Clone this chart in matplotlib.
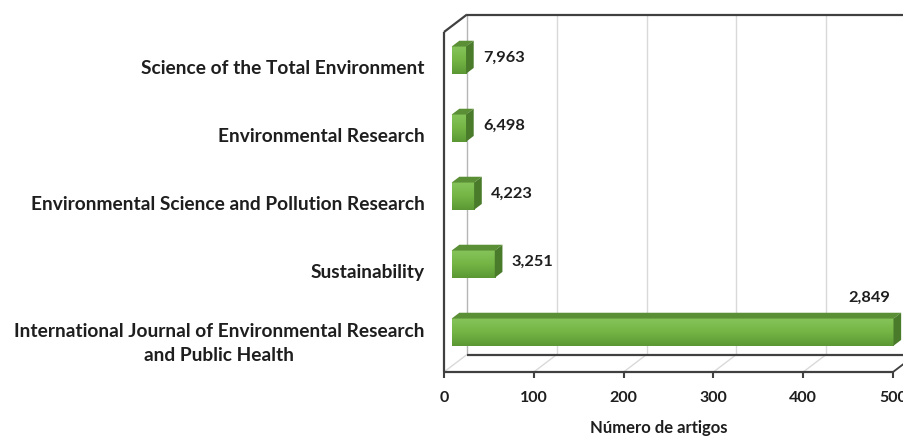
import numpy as np
import matplotlib
matplotlib.use("Agg")
import matplotlib.pyplot as plt
from matplotlib.patches import Polygon
from matplotlib.colors import LinearSegmentedColormap

# ---------------- data ----------------
journals = [
    "Science of the Total Environment",
    "Environmental Research",
    "Environmental Science and Pollution Research",
    "Sustainability",
    "International Journal of Environmental Research\nand Public Health",
]
articles = [16, 16, 25, 48, 492]
impact_labels = ["7,963", "6,498", "4,223", "3,251", "2,849"]
xticks = [0, 100, 200, 300, 400, 500]
xlabel = "Número de artigos"

# ---------------- style ----------------
plt.rcParams["font.family"] = ["Lato", "DejaVu Sans"]
TEXT = "#1e1e1e"
FRAME = "#404040"
GRID = "#d9d9d9"
TOP_C = "#5a8f35"
SIDE_C = "#4a7b2b"
grad = LinearSegmentedColormap.from_list("g", ["#86c45a", "#74b545", "#5b9834"])

W, H = 904, 439
fig = plt.figure(figsize=(W / 100, H / 100), dpi=100)
L, R, T, B = 444, 893, 33, 373
ax = fig.add_axes([L / W, 1 - B / H, (R - L) / W, (B - T) / H])
XMAX = 500
ax.set_xlim(0, XMAX)
ax.set_ylim(len(journals) - 0.5, -0.5)
ppx = (R - L) / XMAX
ppy = (B - T) / len(journals)
DX = 23 / ppx
DY = 17.5 / ppy


def P(x, y, d):
    return (x + d * DX, y - d * DY)


def line(p, q, **kw):
    ax.plot([p[0], q[0]], [p[1], q[1]], clip_on=False, solid_capstyle="butt", **kw)


ytop, ybot = -0.5, len(journals) - 0.5

# back wall grid + floor diagonals
for t in xticks:
    col = "#b5b5b5" if t == 0 else GRID
    line(P(t, ytop, 1), P(t, ybot, 1), color=col, lw=1.0, zorder=1)
    line(P(t, ybot, 0), P(t, ybot, 1), color=GRID, lw=1.0, zorder=1)

# frame
line(P(0, ytop, 0), P(0, ybot, 0), color=FRAME, lw=1.6, zorder=5)
line(P(0, ytop, 0), P(0, ytop, 1), color=FRAME, lw=1.6, zorder=5)
line(P(0, ytop, 1), P(XMAX + 30, ytop, 1), color=FRAME, lw=1.6, zorder=5)
line(P(0, ybot, 1), P(XMAX + 30, ybot, 1), color=FRAME, lw=1.6, zorder=2)
line(P(XMAX, ybot, 0), P(XMAX, ybot, 1), color=FRAME, lw=1.3, zorder=2)

# bars
h = 0.4
d1, d2 = 1 / 3, 2 / 3
gimg = np.linspace(0, 1, 64).reshape(-1, 1)
for i, v in enumerate(articles):
    y0, y1 = i - h / 2, i + h / 2
    fx0, fy0 = P(0, y0, d1)
    fx1, fy1 = P(v, y1, d1)
    ax.imshow(gimg, cmap=grad, aspect="auto", origin="upper",
              extent=(fx0, fx1, fy1, fy0), zorder=3, clip_on=False,
              interpolation="bilinear")
    top = Polygon([P(0, y0, d1), P(v, y0, d1), P(v, y0, d2), P(0, y0, d2)],
                  closed=True, facecolor=TOP_C, edgecolor="none", zorder=3, clip_on=False)
    side = Polygon([P(v, y0, d1), P(v, y1, d1), P(v, y1, d2), P(v, y0, d2)],
                   closed=True, facecolor=SIDE_C, edgecolor="none", zorder=3, clip_on=False)
    ax.add_patch(top)
    ax.add_patch(side)

ax.set_xlim(0, XMAX)
ax.set_ylim(len(journals) - 0.5, -0.5)

# value labels
vlabels = []
for i, (v, lab) in enumerate(zip(articles, impact_labels)):
    if v > 0.8 * XMAX:
        xy = P(v, i - h / 2, 0.5)
        t = ax.annotate(lab, xy=xy, xytext=(-5, 8.5), textcoords="offset points",
                        ha="right", va="bottom", fontweight="bold", color=TEXT, zorder=6,
                        annotation_clip=False)
    else:
        xy = P(v, i, 0.5)
        t = ax.annotate(lab, xy=xy, xytext=(9.5, 0), textcoords="offset points",
                        ha="left", va="center", fontweight="bold", color=TEXT, zorder=6,
                        annotation_clip=False)
    vlabels.append(t)

# axes
for s in ["top", "right", "left", "bottom"]:
    ax.spines[s].set_visible(False)
ax.set_facecolor("none")
ax.set_xticks(xticks)
ax.set_xticklabels([str(t) for t in xticks], fontweight="bold", color=TEXT)
ax.tick_params(axis="x", direction="out", length=4, width=1.5, color=FRAME, pad=9)
ax.set_yticks(range(len(journals)))
ax.set_yticklabels(journals, fontweight="bold", color=TEXT, linespacing=1.48)
ax.tick_params(axis="y", length=0, pad=14)
for lab in ax.get_yticklabels():
    lab.set_multialignment("center")
ax.set_xlabel(xlabel, fontweight="bold", color=TEXT)
line(P(0, ybot, 0), P(XMAX, ybot, 0), color=FRAME, lw=1.6, zorder=5)

# fit font sizes to measured widths
fig.canvas.draw()
rend = fig.canvas.get_renderer()


def fit(texts, ref, target):
    ref.set_fontsize(10)
    w = ref.get_window_extent(rend).width
    fs = 10 * target / w
    for t in texts:
        t.set_fontsize(fs)
    return fs


ylabs = ax.get_yticklabels()
fit(ylabs, ylabs[2], 395)
fit(vlabels, vlabels[0], 42)
xlabs = ax.get_xticklabels()
fit(xlabs, xlabs[1], 28)
fit([ax.xaxis.label], ax.xaxis.label, 138)
ax.xaxis.set_label_coords((659 - L) / (R - L), -0.138)

fig.savefig("out.png", dpi=100)
